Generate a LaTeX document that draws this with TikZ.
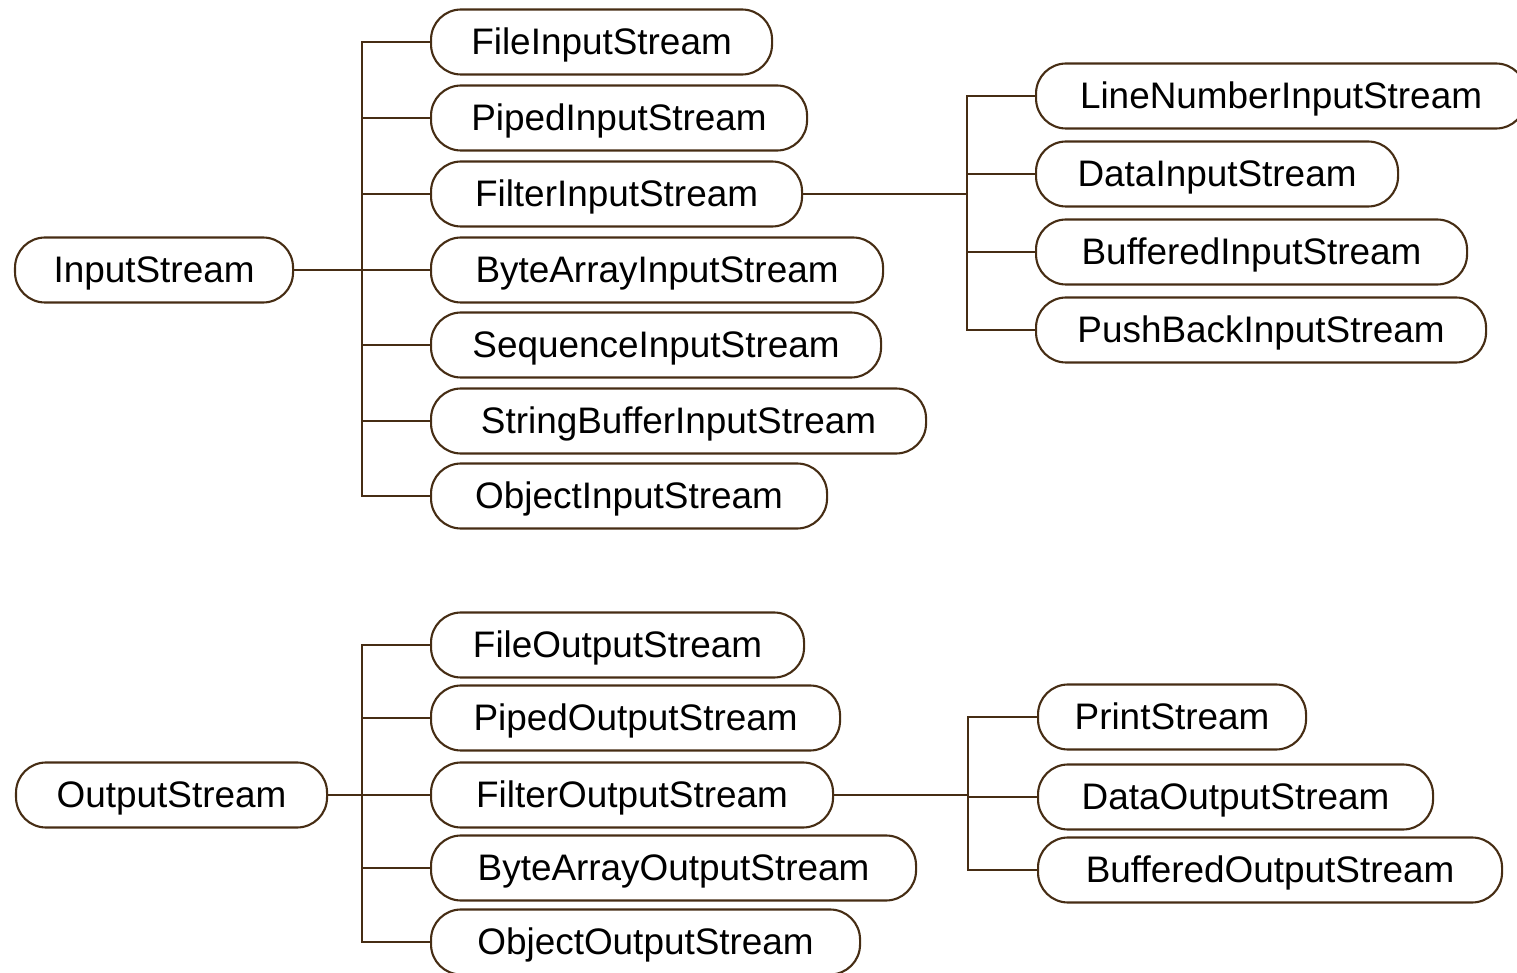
\documentclass[tikz,border=0pt]{standalone}
\usepackage{fontspec}
\setmainfont{Liberation Sans}
\definecolor{linebrown}{RGB}{70,45,20}
\tikzset{
  ClassStyle/.style={draw=linebrown, line width=0.6pt, rounded corners=0.3cm,
    minimum height=0.65cm, inner xsep=0.3cm, anchor=west,
    text height=0.9em, text depth=0.2em,
    font=\fontsize{10.5}{12}\selectfont},
  LinkStyle/.style={draw=linebrown, line width=0.6pt}
}

\begin{document}
\begin{tikzpicture}
\useasboundingbox (0,0) rectangle (15.17,-9.73);
% input side
\node[ClassStyle, minimum width=2.78cm] (in) at (0.14,-2.70) {InputStream};
\node[ClassStyle, minimum width=3.41cm] (fis) at (4.30,-0.42) {FileInputStream};
\node[ClassStyle, minimum width=3.76cm] (pis) at (4.30,-1.18) {PipedInputStream};
\node[ClassStyle, minimum width=3.71cm] (fil) at (4.30,-1.94) {FilterInputStream};
\node[ClassStyle, minimum width=4.52cm] (bais) at (4.30,-2.70) {ByteArrayInputStream};
\node[ClassStyle, minimum width=4.50cm] (sis) at (4.30,-3.45) {SequenceInputStream};
\node[ClassStyle, minimum width=4.95cm] (sbis) at (4.30,-4.21) {StringBufferInputStream};
\node[ClassStyle, minimum width=3.96cm] (ois) at (4.30,-4.96) {ObjectInputStream};
\node[ClassStyle, minimum width=4.90cm] (lnis) at (10.35,-0.96) {LineNumberInputStream};
\node[ClassStyle, minimum width=3.62cm] (dis) at (10.35,-1.74) {DataInputStream};
\node[ClassStyle, minimum width=4.31cm] (bis) at (10.35,-2.52) {BufferedInputStream};
\node[ClassStyle, minimum width=4.50cm] (pbis) at (10.35,-3.30) {PushBackInputStream};
\coordinate (ibus) at (9.67,0);
% output side
\node[ClassStyle, minimum width=3.11cm] (out) at (0.15,-7.95) {OutputStream};
\node[ClassStyle, minimum width=3.73cm] (fos) at (4.30,-6.45) {FileOutputStream};
\node[ClassStyle, minimum width=4.09cm] (pos) at (4.30,-7.18) {PipedOutputStream};
\node[ClassStyle, minimum width=4.02cm] (filo) at (4.30,-7.95) {FilterOutputStream};
\node[ClassStyle, minimum width=4.85cm] (baos) at (4.30,-8.68) {ByteArrayOutputStream};
\node[ClassStyle, minimum width=4.29cm] (oos) at (4.30,-9.42) {ObjectOutputStream};
\node[ClassStyle, minimum width=2.68cm] (ps) at (10.37,-7.17) {PrintStream};
\node[ClassStyle, minimum width=3.95cm] (dos) at (10.37,-7.97) {DataOutputStream};
\node[ClassStyle, minimum width=4.64cm] (bos) at (10.37,-8.70) {BufferedOutputStream};
\coordinate (obus) at (9.68,0);
% links of the input tree
\draw[LinkStyle] (fis.west) -- ++(-0.68,0) |- (ois.west);
\draw[LinkStyle] (pis.west) -- ++(-0.68,0);
\draw[LinkStyle] (fil.west) -- ++(-0.68,0);
\draw[LinkStyle] (sis.west) -- ++(-0.68,0);
\draw[LinkStyle] (sbis.west) -- ++(-0.68,0);
\draw[LinkStyle] (in.east) -- (bais.west);
\draw[LinkStyle] (lnis.west) -- ++(-0.68,0) |- (pbis.west);
\draw[LinkStyle] (dis.west) -- ++(-0.68,0);
\draw[LinkStyle] (bis.west) -- ++(-0.68,0);
\draw[LinkStyle] (fil.east) -- (fil.east -| ibus);
% links of the output tree
\draw[LinkStyle] (fos.west) -- ++(-0.68,0) |- (oos.west);
\draw[LinkStyle] (pos.west) -- ++(-0.68,0);
\draw[LinkStyle] (baos.west) -- ++(-0.68,0);
\draw[LinkStyle] (out.east) -- (filo.west);
\draw[LinkStyle] (ps.west) -- ++(-0.69,0) |- (bos.west);
\draw[LinkStyle] (dos.west) -- ++(-0.69,0);
\draw[LinkStyle] (filo.east) -- (filo.east -| obus);
\end{tikzpicture}
\end{document}
